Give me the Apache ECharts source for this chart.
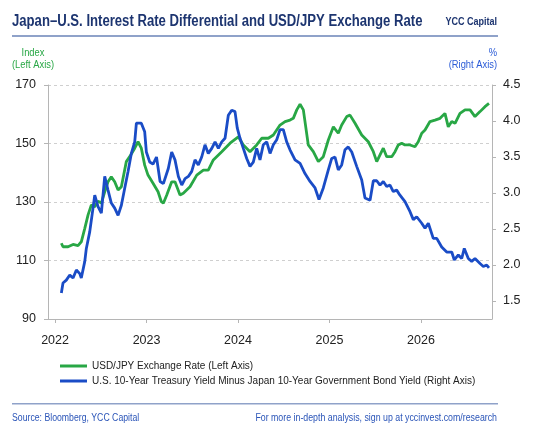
<!DOCTYPE html>
<html>
<head>
<meta charset="utf-8">
<script src="https://cdn.jsdelivr.net/npm/echarts@6/dist/echarts.min.js"></script>
<style>
  html, body { margin: 0; padding: 0; background: #ffffff; }
  #chart { width: 550px; height: 438px; }
</style>
</head>
<body>
<div id="chart"></div>
<script>
// ---- Data (decimal years) ----
const usdjpyYears = [2022.069, 2022.087, 2022.142, 2022.197, 2022.251, 2022.287, 2022.325, 2022.361, 2022.397, 2022.434,
  2022.470, 2022.506, 2022.543, 2022.579, 2022.615, 2022.652, 2022.689, 2022.725, 2022.779, 2022.816,
  2022.871, 2022.907, 2022.943, 2022.980, 2023.016, 2023.071, 2023.126, 2023.162, 2023.184, 2023.221,
  2023.275, 2023.311, 2023.366, 2023.402, 2023.475, 2023.549, 2023.621, 2023.675, 2023.730, 2023.822,
  2023.913, 2024.003, 2024.058, 2024.131, 2024.204, 2024.259, 2024.331, 2024.386, 2024.459, 2024.514,
  2024.568, 2024.604, 2024.642, 2024.678, 2024.714, 2024.768, 2024.823, 2024.878, 2024.932, 2024.987,
  2025.042, 2025.096, 2025.133, 2025.188, 2025.224, 2025.279, 2025.352, 2025.424, 2025.479, 2025.516,
  2025.552, 2025.588, 2025.625, 2025.680, 2025.716, 2025.752, 2025.789, 2025.825, 2025.880, 2025.934,
  2025.970, 2026.008, 2026.044, 2026.098, 2026.153, 2026.208, 2026.262, 2026.298, 2026.336, 2026.372,
  2026.426, 2026.481, 2026.536, 2026.590, 2026.645, 2026.699, 2026.743];
const usdjpyValues = [115.9, 114.7, 114.7, 115.5, 115.1, 116.4, 121.0, 125.6, 129.0, 128.4,
  130.3, 129.6, 133.5, 136.9, 138.6, 136.9, 134.1, 135.2, 143.8, 145.5,
  148.4, 150.6, 148.4, 142.6, 139.2, 136.4, 133.5, 130.1, 129.6, 132.4,
  136.9, 136.9, 132.4, 133.0, 135.2, 139.2, 140.9, 140.9, 144.4, 147.2,
  150.1, 152.3, 149.5, 147.2, 149.5, 151.8, 151.8, 152.9, 156.3, 157.5,
  158.0, 158.6, 161.5, 163.4, 161.5, 149.5, 147.2, 143.8, 145.5, 151.2,
  155.7, 153.5, 156.3, 159.2, 159.7, 156.9, 152.9, 150.6, 147.2, 143.8,
  146.1, 148.4, 145.5, 145.5, 147.2, 149.5, 150.1, 149.5, 149.5, 148.9,
  150.6, 153.5, 154.6, 157.5, 158.0, 158.6, 160.3, 155.7, 157.5, 156.9,
  160.3, 161.5, 161.5, 159.2, 160.9, 162.6, 163.7];

const spreadYears = [2022.069, 2022.087, 2022.123, 2022.161, 2022.197, 2022.233, 2022.270, 2022.287, 2022.325, 2022.342,
  2022.379, 2022.415, 2022.434, 2022.470, 2022.506, 2022.543, 2022.579, 2022.615, 2022.652, 2022.689,
  2022.725, 2022.762, 2022.798, 2022.834, 2022.871, 2022.889, 2022.943, 2022.980, 2022.998, 2023.035,
  2023.071, 2023.109, 2023.148, 2023.184, 2023.238, 2023.275, 2023.311, 2023.348, 2023.385, 2023.421,
  2023.457, 2023.494, 2023.530, 2023.566, 2023.603, 2023.639, 2023.675, 2023.713, 2023.749, 2023.785,
  2023.822, 2023.858, 2023.894, 2023.931, 2023.967, 2023.992, 2024.022, 2024.058, 2024.095, 2024.131,
  2024.167, 2024.204, 2024.240, 2024.276, 2024.314, 2024.350, 2024.386, 2024.423, 2024.459, 2024.495,
  2024.532, 2024.568, 2024.623, 2024.678, 2024.732, 2024.787, 2024.842, 2024.885, 2024.932, 2024.987,
  2025.024, 2025.060, 2025.096, 2025.133, 2025.169, 2025.205, 2025.243, 2025.297, 2025.352, 2025.388,
  2025.443, 2025.479, 2025.516, 2025.552, 2025.588, 2025.625, 2025.661, 2025.697, 2025.734, 2025.770,
  2025.825, 2025.880, 2025.916, 2025.953, 2026.008, 2026.044, 2026.080, 2026.134, 2026.172, 2026.226,
  2026.281, 2026.336, 2026.364, 2026.408, 2026.445, 2026.473, 2026.517, 2026.554, 2026.590, 2026.645,
  2026.681, 2026.718, 2026.743];
const spreadValues = [1.61, 1.75, 1.79, 1.86, 1.82, 1.93, 1.88, 1.82, 2.05, 2.23,
  2.46, 2.79, 2.97, 2.81, 2.72, 3.23, 3.04, 2.86, 2.79, 2.69,
  2.83, 3.07, 3.30, 3.55, 3.71, 3.97, 3.97, 3.85, 3.57, 3.43,
  3.40, 3.50, 3.16, 3.13, 3.34, 3.57, 3.46, 3.23, 3.11, 3.20,
  3.23, 3.30, 3.46, 3.39, 3.50, 3.67, 3.55, 3.62, 3.71, 3.62,
  3.71, 3.76, 4.08, 4.15, 4.13, 3.90, 3.76, 3.62, 3.48, 3.37,
  3.43, 3.62, 3.46, 3.67, 3.71, 3.55, 3.67, 3.74, 3.88, 3.88,
  3.71, 3.60, 3.46, 3.41, 3.27, 3.16, 3.07, 2.91, 3.07, 3.32,
  3.48, 3.50, 3.32, 3.39, 3.60, 3.64, 3.57, 3.37, 3.18, 2.93,
  2.90, 3.17, 3.17, 3.11, 3.16, 3.09, 3.11, 3.02, 3.04, 2.97,
  2.88, 2.74, 2.63, 2.67, 2.58, 2.51, 2.58, 2.37, 2.37, 2.25,
  2.18, 2.18, 2.07, 2.14, 2.09, 2.23, 2.09, 2.05, 2.09, 2.02,
  1.98, 2.00, 1.96];

const yearTicks = [2022, 2023, 2024, 2025, 2026];
const rightTicks = [1.5, 2.0, 2.5, 3.0, 3.5, 4.0, 4.5];

const seriesNames = [
  'USD/JPY Exchange Rate (Left Axis)',
  'U.S. 10-Year Treasury Yield Minus Japan 10-Year Government Bond Yield (Right Axis)'
];

// ---- Styling ----
const GREEN = '#28a745';
const BLUE = '#1a4cc6';
const NAVY = '#1d3570';
const FONT = '"Liberation Sans", Arial, sans-serif';

const chart = echarts.init(document.getElementById('chart'), null, { renderer: 'canvas' });

function label(x, y, text, size, fill, align, weight, sx) {
  return {
    type: 'text', x: x, y: y, scaleX: sx, scaleY: 1,
    style: { text: text, fontFamily: FONT, fontSize: size, fontWeight: weight || 'normal',
             fill: fill, verticalAlign: 'middle', align: align }
  };
}

const option = {
  backgroundColor: '#ffffff',
  animation: false,
  grid: { left: 48, right: 58, top: 85, bottom: 119, containLabel: false },
  legend: {
    orient: 'vertical',
    left: 60,
    top: 361,
    padding: 0,
    itemWidth: 27,
    itemHeight: 3,
    itemGap: 5,
    textStyle: { fontFamily: FONT, fontSize: 10, color: '#222222' },
    data: [{ name: seriesNames[0], icon: 'rect' }, { name: seriesNames[1], icon: 'rect' }]
  },
  xAxis: {
    type: 'value',
    min: 2021.923,
    max: 2026.776,
    axisLine: { show: true, lineStyle: { color: '#b5b5b5', width: 1 } },
    axisTick: { show: true, customValues: yearTicks, length: 4, lineStyle: { color: '#b5b5b5' } },
    axisLabel: {
      customValues: yearTicks,
      formatter: v => String(Math.round(v)),
      fontFamily: FONT, fontSize: 12.5, color: '#222222', margin: 15
    },
    splitLine: { show: false }
  },
  yAxis: [
    {
      type: 'value',
      min: 90, max: 170, interval: 20,
      position: 'left',
      axisLine: { show: true, lineStyle: { color: '#b5b5b5' } },
      axisTick: { show: true, length: 4, lineStyle: { color: '#b5b5b5' } },
      axisLabel: { fontFamily: FONT, fontSize: 12.5, color: '#222222', margin: 12 },
      splitLine: { show: true, lineStyle: { color: '#cfcfcf', type: [3, 3], width: 1 } }
    },
    {
      type: 'value',
      min: 1.25, max: 4.5,
      position: 'right',
      axisLine: { show: true, lineStyle: { color: '#b5b5b5' } },
      axisTick: { show: true, customValues: rightTicks, length: 4, lineStyle: { color: '#b5b5b5' } },
      axisLabel: {
        customValues: rightTicks,
        formatter: v => v.toFixed(1),
        fontFamily: FONT, fontSize: 12.5, color: '#222222', margin: 11
      },
      splitLine: { show: false }
    }
  ],
  series: [
    {
      name: seriesNames[0],
      type: 'line',
      yAxisIndex: 0,
      showSymbol: false,
      color: GREEN,
      lineStyle: { color: GREEN, width: 2.8 },
      data: usdjpyYears.map((x, i) => [x, usdjpyValues[i]])
    },
    {
      name: seriesNames[1],
      type: 'line',
      yAxisIndex: 1,
      showSymbol: false,
      color: BLUE,
      lineStyle: { color: BLUE, width: 2.8 },
      data: spreadYears.map((x, i) => [x, spreadValues[i]])
    }
  ],
  graphic: [
    label(12, 22, 'Japan\u2013U.S. Interest Rate Differential and USD/JPY Exchange Rate', 16, NAVY, 'left', 'bold', 0.82),
    label(497, 22, 'YCC Capital', 11, NAVY, 'right', 'bold', 0.82),
    { type: 'rect', shape: { x: 12, y: 35, width: 486, height: 2 }, style: { fill: '#8fa2c9' } },
    label(33, 53, 'Index', 11, GREEN, 'center', 'normal', 0.85),
    label(33, 65, '(Left Axis)', 11, GREEN, 'center', 'normal', 0.85),
    label(497, 53, '%', 11, '#2a5bd7', 'right', 'normal', 0.85),
    label(497, 65, '(Right Axis)', 11, '#2a5bd7', 'right', 'normal', 0.85),
    { type: 'rect', shape: { x: 12, y: 403, width: 486, height: 1.5 }, style: { fill: '#8fa2c9' } },
    label(12, 418, 'Source: Bloomberg, YCC Capital', 10, '#2b55b8', 'left', 'normal', 0.87),
    label(497, 418, 'For more in-depth analysis, sign up at yccinvest.com/research', 10, '#2b55b8', 'right', 'normal', 0.88)
  ]
};

chart.setOption(option);
</script>
</body>
</html>
